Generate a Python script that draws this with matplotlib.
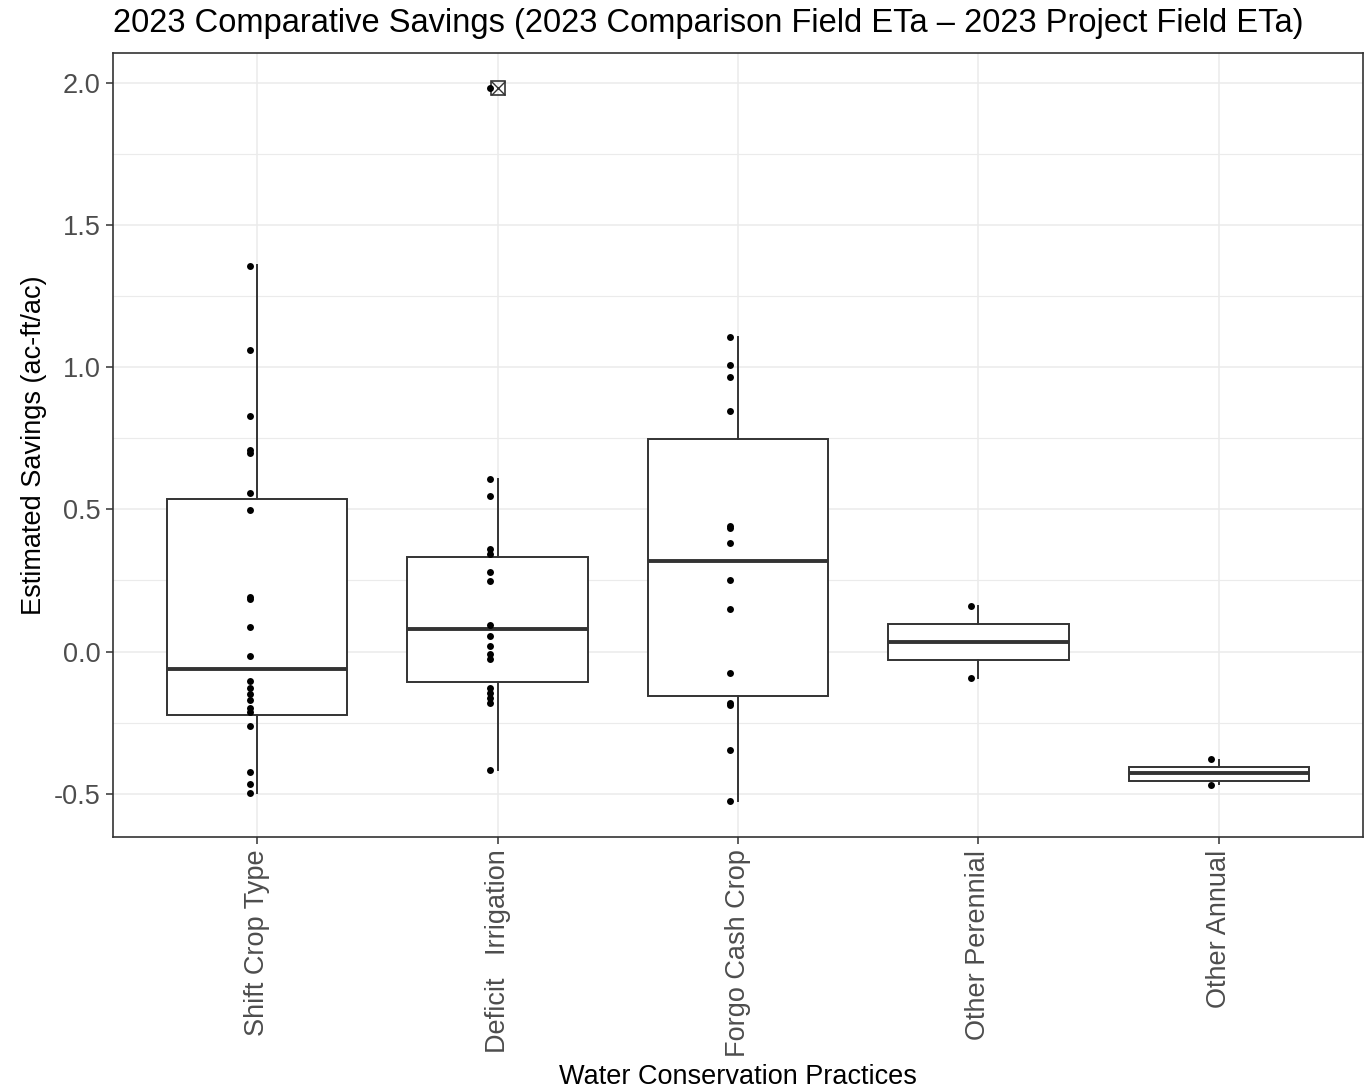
import numpy as np
import matplotlib.pyplot as plt
from matplotlib.ticker import MultipleLocator, FormatStrFormatter

plt.rcParams['font.family'] = ['Liberation Sans', 'DejaVu Sans']
plt.rcParams['axes.unicode_minus'] = False

# Practices on the x axis
categories = ["Shift Crop Type", "Deficit   Irrigation", "Forgo Cash Crop",
              "Other Perennial", "Other Annual"]

# Individual field savings (ac-ft/ac)
shift_crop = [1.354, 1.059, 0.829, 0.710, 0.698, 0.559, 0.498, 0.190, 0.184,
              0.087, -0.015, -0.103, -0.127, -0.150, -0.171, -0.200, -0.214,
              -0.263, -0.424, -0.467, -0.497]
deficit_irr = [1.982, 0.605, 0.546, 0.361, 0.342, 0.280, 0.247, 0.092, 0.055,
               0.021, -0.009, -0.026, -0.128, -0.145, -0.162, -0.182, -0.417]
forgo_cash = [1.105, 1.009, 0.966, 0.845, 0.441, 0.435, 0.382, 0.250, 0.148,
              -0.075, -0.180, -0.188, -0.346, -0.525]
other_perennial = [0.161, -0.094]
other_annual = [-0.377, -0.469]
points = [shift_crop, deficit_irr, forgo_cash, other_perennial, other_annual]

# Box statistics per practice
whislo = [-0.496, -0.417, -0.526, -0.092, -0.466]
q1 = [-0.223, -0.106, -0.157, -0.031, -0.454]
med = [-0.062, 0.079, 0.318, 0.034, -0.427]
q3 = [0.536, 0.331, 0.748, 0.097, -0.407]
whishi = [1.360, 0.605, 1.105, 0.161, -0.381]
fliers = [[], [1.982], [], [], []]

title = "2023 Comparative Savings (2023 Comparison Field ETa \u2013 2023 Project Field ETa)"
xlabel = "Water Conservation Practices"
ylabel = "Estimated Savings (ac-ft/ac)"

W, H = 1368, 1090
fig = plt.figure(figsize=(W / 100, H / 100), dpi=100)
ax = fig.add_axes([113 / W, 1 - 837 / H, 1250 / W, (837 - 52.5) / H])

line_col = '#333333'
stats = []
for i in range(len(categories)):
    stats.append(dict(whislo=whislo[i], q1=q1[i], med=med[i], q3=q3[i],
                      whishi=whishi[i], fliers=fliers[i]))

ax.bxp(stats, positions=range(len(categories)), widths=0.75, showcaps=False,
       patch_artist=True,
       boxprops=dict(facecolor='white', edgecolor=line_col, linewidth=1.4),
       whiskerprops=dict(color=line_col, linewidth=1.4),
       medianprops=dict(color=line_col, linewidth=2.8),
       flierprops=dict(marker='s', markerfacecolor='none', markeredgecolor=line_col,
                       markersize=10, markeredgewidth=1.2),
       zorder=2)

# cross inside the outlier square
for i, fl in enumerate(fliers):
    if fl:
        ax.plot([i] * len(fl), fl, 'x', color=line_col, ms=10, mew=1.0, zorder=2)

# data points, slightly shifted left as in the original
for i, vals in enumerate(points):
    ax.plot(np.full(len(vals), i - 0.032), vals, 'o', color='black', ms=5,
            mew=0, zorder=3)

ax.set_xlim(-0.6, len(categories) - 0.4)
ax.set_ylim(-0.652, 2.106)
ax.set_xticks(range(len(categories)))
ax.set_xticklabels(categories, rotation=90, ha='center', va='top')
ax.yaxis.set_major_locator(MultipleLocator(0.5))
ax.yaxis.set_minor_locator(MultipleLocator(0.25))
ax.yaxis.set_major_formatter(FormatStrFormatter('%.1f'))

ax.tick_params(axis='both', which='major', length=5, width=1.1, color=line_col,
               labelcolor='#4D4D4D', labelsize=19.5, pad=4)
ax.tick_params(which='minor', length=0)
ax.grid(which='major', color='#EBEBEB', linewidth=1.1)
ax.grid(which='minor', axis='y', color='#EBEBEB', linewidth=0.8)
ax.set_axisbelow(True)
for sp in ax.spines.values():
    sp.set_color(line_col)
    sp.set_linewidth(1.2)

fig.text(113 / W, 1 - 32 / H, title, fontsize=23.5, ha='left', va='baseline')
fig.text(34 / W, 1 - 445 / H, ylabel, fontsize=19.5, rotation=90,
         ha='center', va='center')
fig.text(738 / W, 0.5 / H, xlabel, fontsize=19.5, ha='center', va='bottom')

fig.savefig('out.png', dpi=100)
